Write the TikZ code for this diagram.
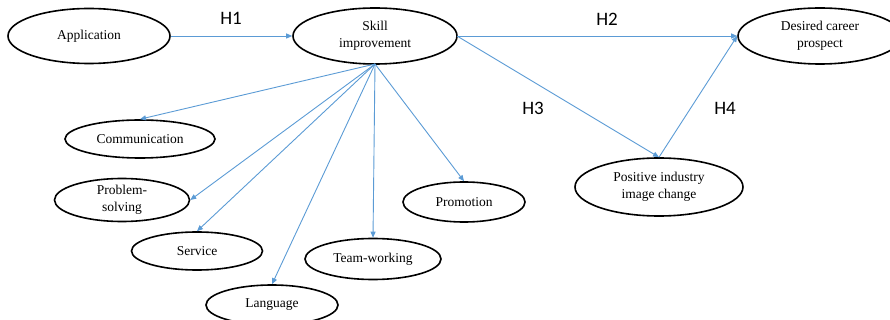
\documentclass[tikz,border=0pt]{standalone}
\usepackage{fontspec}
\setmainfont{Liberation Serif}
\newfontfamily\hfont{Carlito}
\usetikzlibrary{shapes.geometric,arrows.meta}
\definecolor{lineblue}{RGB}{91,155,213}
\tikzset{
  oval/.style={ellipse,draw=black,line width=1.6pt,minimum width=#1,align=center,inner sep=0pt,font=\fontsize{13.5}{16.5}\selectfont},
  conn/.style={draw=lineblue,line width=0.9pt,-{Triangle[length=6pt,width=5pt]}},
  hlab/.style={font=\hfont\fontsize{19}{20}\selectfont}
}
\begin{document}
\begin{tikzpicture}[x=1pt,y=-1pt]
\useasboundingbox (0,0) rectangle (890,320);
\clip (0,0) rectangle (890,320);
\node[oval=162pt,minimum height=55pt] (app) at (89,36) {Application};
\node[oval=164pt,minimum height=56pt] (skill) at (375,36) {Skill\\improvement};
\node[oval=164pt,minimum height=56pt] (des) at (820,36) {Desired career\\prospect};
\node[oval=168pt,minimum height=58pt] (pos) at (659,187) {Positive industry\\image change};
\node[oval=150pt,minimum height=38pt] (comm) at (140,139) {Communication};
\node[oval=135pt,minimum height=43pt] (prob) at (122,200) {Problem-\\solving};
\node[oval=131pt,minimum height=38pt] (serv) at (197,251) {Service};
\node[oval=132pt,minimum height=40pt] (lang) at (272,305) {Language};
\node[oval=136pt,minimum height=41pt] (team) at (373,259) {Team-working};
\node[oval=122pt,minimum height=40pt] (prom) at (464,202) {Promotion};

\coordinate (sb) at (375,64);
\coordinate (sr) at (457,36);
\draw[conn] (app.east) -- (skill.west);
\draw[conn] (sr) -- (des.west);
\draw[conn] (sr) -- (pos.north);
\draw[conn] (pos.north) -- (des.west);
\draw[conn] (sb) -- (comm.north);
\draw[conn] (sb) -- (prob.east);
\draw[conn] (sb) -- (serv.north);
\draw[conn] (sb) -- (lang.north);
\draw[conn] (sb) -- (team.north);
\draw[conn] (sb) -- (prom.north);

\node[hlab] (h1) at (231,18) {H1};
\node[hlab] (h2) at (607,19) {H2};
\node[hlab] (h3) at (533,108) {H3};
\node[hlab] (h4) at (725,108) {H4};
\end{tikzpicture}
\end{document}
